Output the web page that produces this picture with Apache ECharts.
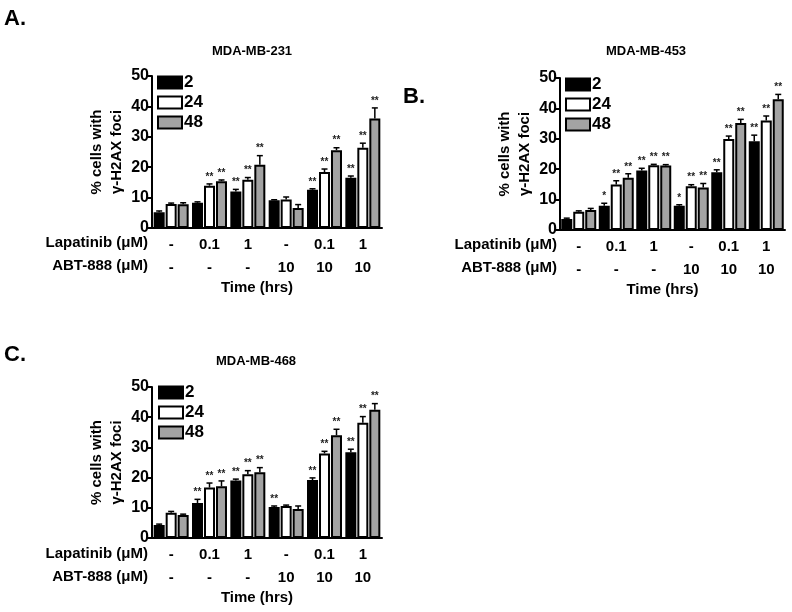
<!DOCTYPE html>
<html>
<head>
<meta charset="utf-8">
<script src="https://cdn.jsdelivr.net/npm/echarts@6/dist/echarts.min.js"></script>
<style>
  html, body { margin: 0; padding: 0; background: #fff; }
  #main { width: 792px; height: 612px; }
</style>
</head>
<body>
<div id="main"></div>
<script>
// treatment rows under the x axis
const lapatinib = ['-', '0.1', '1', '-', '0.1', '1'];
const abt888 = ['-', '-', '-', '10', '10', '10'];
const times = ['2', '24', '48'];
const yTicks = [0, 10, 20, 30, 40, 50];

// MDA-MB-231
const a2 = [5.2, 8.3, 12.0, 9.1, 12.6, 16.5];
const a24 = [7.9, 13.9, 15.9, 9.4, 18.4, 26.4];
const a48 = [7.8, 15.4, 20.8, 6.6, 25.6, 36.0];
const a2Err = [0.4, 0.3, 0.7, 0.2, 0.3, 0.6];
const a24Err = [0.3, 0.6, 0.7, 0.8, 1.0, 1.5];
const a48Err = [0.5, 0.4, 3.0, 1.1, 0.8, 3.5];
const a2Stars = ['', '', '**', '', '**', '**'];
const a24Stars = ['', '**', '**', '', '**', '**'];
const a48Stars = ['', '**', '**', '', '**', '**'];

// MDA-MB-453
const b2 = [3.6, 8.0, 19.6, 8.0, 19.0, 29.2];
const b24 = [6.0, 15.0, 21.3, 14.4, 29.9, 36.0];
const b48 = [6.6, 17.2, 21.2, 14.0, 35.2, 43.0];
const b2Err = [0.3, 0.8, 0.7, 0.3, 0.8, 2.0];
const b24Err = [0.3, 1.2, 0.3, 0.5, 1.0, 1.5];
const b48Err = [0.5, 1.3, 0.3, 1.3, 1.2, 1.6];
const b2Stars = ['', '*', '**', '*', '**', '**'];
const b24Stars = ['', '**', '**', '**', '**', '**'];
const b48Stars = ['', '**', '**', '**', '**', '**'];

// MDA-MB-468
const c2 = [4.3, 11.6, 19.0, 10.3, 19.2, 28.4];
const c24 = [8.4, 16.7, 21.1, 10.6, 28.0, 38.2];
const c48 = [7.6, 17.1, 21.8, 9.6, 34.0, 42.5];
const c2Err = [0.3, 1.2, 0.5, 0.3, 0.7, 1.0];
const c24Err = [0.4, 1.5, 1.2, 0.3, 0.7, 2.0];
const c48Err = [0.3, 1.8, 1.5, 1.0, 2.0, 2.0];
const c2Stars = ['', '**', '**', '**', '**', '**'];
const c24Stars = ['', '**', '**', '', '**', '**'];
const c48Stars = ['', '**', '**', '', '**', '**'];

const FONT = 'Liberation Sans, Arial, sans-serif';
const barColors = ['#000000', '#ffffff', '#a3a3a3'];
const BAR_W = 11;
const STEP = 12; // bar width + gap

const myChart = echarts.init(document.getElementById('main'));

const panels = [
  { vals: [a2, a24, a48], errs: [a2Err, a24Err, a48Err], stars: [a2Stars, a24Stars, a48Stars],
    grid: { left: 152, top: 76, width: 230, height: 152 } },
  { vals: [b2, b24, b48], errs: [b2Err, b24Err, b48Err], stars: [b2Stars, b24Stars, b48Stars],
    grid: { left: 560, top: 78, width: 225, height: 152 } },
  { vals: [c2, c24, c48], errs: [c2Err, c24Err, c48Err], stars: [c2Stars, c24Stars, c48Stars],
    grid: { left: 152, top: 387, width: 230, height: 151 } }
];

let grids = [], xAxes = [], yAxes = [], series = [], legends = [];
panels.forEach(function (p, gi) {
  grids.push(p.grid);
  xAxes.push({
    type: 'category', gridIndex: gi,
    data: lapatinib.map(function (l, i) { return l + '\n' + abt888[i]; }),
    axisLine: { lineStyle: { color: '#000', width: 2 } },
    axisTick: { show: false },
    axisLabel: { color: '#000', fontFamily: FONT, fontWeight: 'bold', fontSize: 15, lineHeight: 23, margin: 5 },
    name: 'Time (hrs)', nameLocation: 'middle', nameGap: 52,
    nameTextStyle: { color: '#000', fontFamily: FONT, fontWeight: 'bold', fontSize: 15, padding: [0, 20, 0, 0] }
  });
  yAxes.push({
    type: 'value', gridIndex: gi, min: 0, max: 50, interval: 10,
    splitLine: { show: false },
    axisLine: { show: true, lineStyle: { color: '#000', width: 2 } },
    axisTick: { show: true, length: 5, lineStyle: { width: 2 } },
    axisLabel: { color: '#000', fontFamily: FONT, fontWeight: 'bold', fontSize: 16, margin: 3,
      formatter: function (v) { return yTicks.indexOf(v) >= 0 ? String(v) : ''; } },
    name: '% cells with\nγ-H2AX foci', nameLocation: 'middle', nameRotate: 90, nameGap: 25,
    nameTextStyle: { color: '#000', fontFamily: FONT, fontWeight: 'bold', fontSize: 15, lineHeight: 20 }
  });
  times.forEach(function (t, k) {
    series.push({
      type: 'bar', name: t, xAxisIndex: gi, yAxisIndex: gi,
      data: p.vals[k], barWidth: BAR_W, barGap: '9%',
      itemStyle: { color: barColors[k], borderColor: '#000', borderWidth: 2 }
    });
  });
  times.forEach(function (t, k) {
    const stars = p.stars[k];
    series.push({
      type: 'custom', xAxisIndex: gi, yAxisIndex: gi, z: 5,
      data: p.vals[k].map(function (v, i) { return [i, v, p.errs[k][i]]; }),
      renderItem: function (params, api) {
        const idx = api.value(0), v = api.value(1), e = api.value(2);
        const base = api.coord([idx, v]);
        const top = api.coord([idx, v + e]);
        const x = base[0] + (k - 1) * STEP;
        const children = [
          { type: 'line', shape: { x1: x, y1: base[1], x2: x, y2: top[1] }, style: { stroke: '#000', lineWidth: 1.5 } },
          { type: 'line', shape: { x1: x - 3, y1: top[1], x2: x + 3, y2: top[1] }, style: { stroke: '#000', lineWidth: 1.5 } }
        ];
        const s = stars[params.dataIndex];
        if (s) {
          children.push({ type: 'text', x: x, y: top[1] - 2,
            style: { text: s, fill: '#222', font: 'bold 10px ' + FONT, textAlign: 'center', textVerticalAlign: 'bottom' } });
        }
        return { type: 'group', children: children };
      }
    });
  });
});

const legendPos = [{ left: 152, top: 69 }, { left: 560, top: 71 }, { left: 153, top: 379 }];
legendPos.forEach(function (pos) {
  legends.push({
    data: times, orient: 'vertical', left: pos.left, top: pos.top,
    itemWidth: 24, itemHeight: 12, itemGap: 3, icon: 'rect',
    itemStyle: { borderColor: '#000', borderWidth: 2 },
    textStyle: { color: '#000', fontFamily: FONT, fontWeight: 'bold', fontSize: 17, lineHeight: 13, padding: [0, 0, 0, -3] }
  });
});

function txt(x, y, text, size, align) {
  return { type: 'text', x: x, y: y, style: { text: text, fill: '#000', font: 'bold ' + size + 'px ' + FONT, textAlign: align || 'left', textVerticalAlign: 'middle' } };
}

const option = {
  animation: false,
  title: [
    { text: 'MDA-MB-231', left: 247, top: 40, textAlign: 'center', textStyle: { fontFamily: FONT, fontSize: 13, fontWeight: 'bold', color: '#000' } },
    { text: 'MDA-MB-453', left: 641, top: 40, textAlign: 'center', textStyle: { fontFamily: FONT, fontSize: 13, fontWeight: 'bold', color: '#000' } },
    { text: 'MDA-MB-468', left: 251, top: 350, textAlign: 'center', textStyle: { fontFamily: FONT, fontSize: 13, fontWeight: 'bold', color: '#000' } }
  ],
  legend: legends,
  grid: grids,
  xAxis: xAxes,
  yAxis: yAxes,
  series: series,
  graphic: [
    txt(4, 19, 'A.', 22),
    txt(403, 97, 'B.', 22),
    txt(4, 355, 'C.', 22),
    txt(148, 243, 'Lapatinib (μM)', 15, 'right'),
    txt(148, 266, 'ABT-888 (μM)', 15, 'right'),
    txt(557, 245, 'Lapatinib (μM)', 15, 'right'),
    txt(557, 268, 'ABT-888 (μM)', 15, 'right'),
    txt(148, 554, 'Lapatinib (μM)', 15, 'right'),
    txt(148, 577, 'ABT-888 (μM)', 15, 'right')
  ]
};
myChart.setOption(option);
</script>
</body>
</html>
